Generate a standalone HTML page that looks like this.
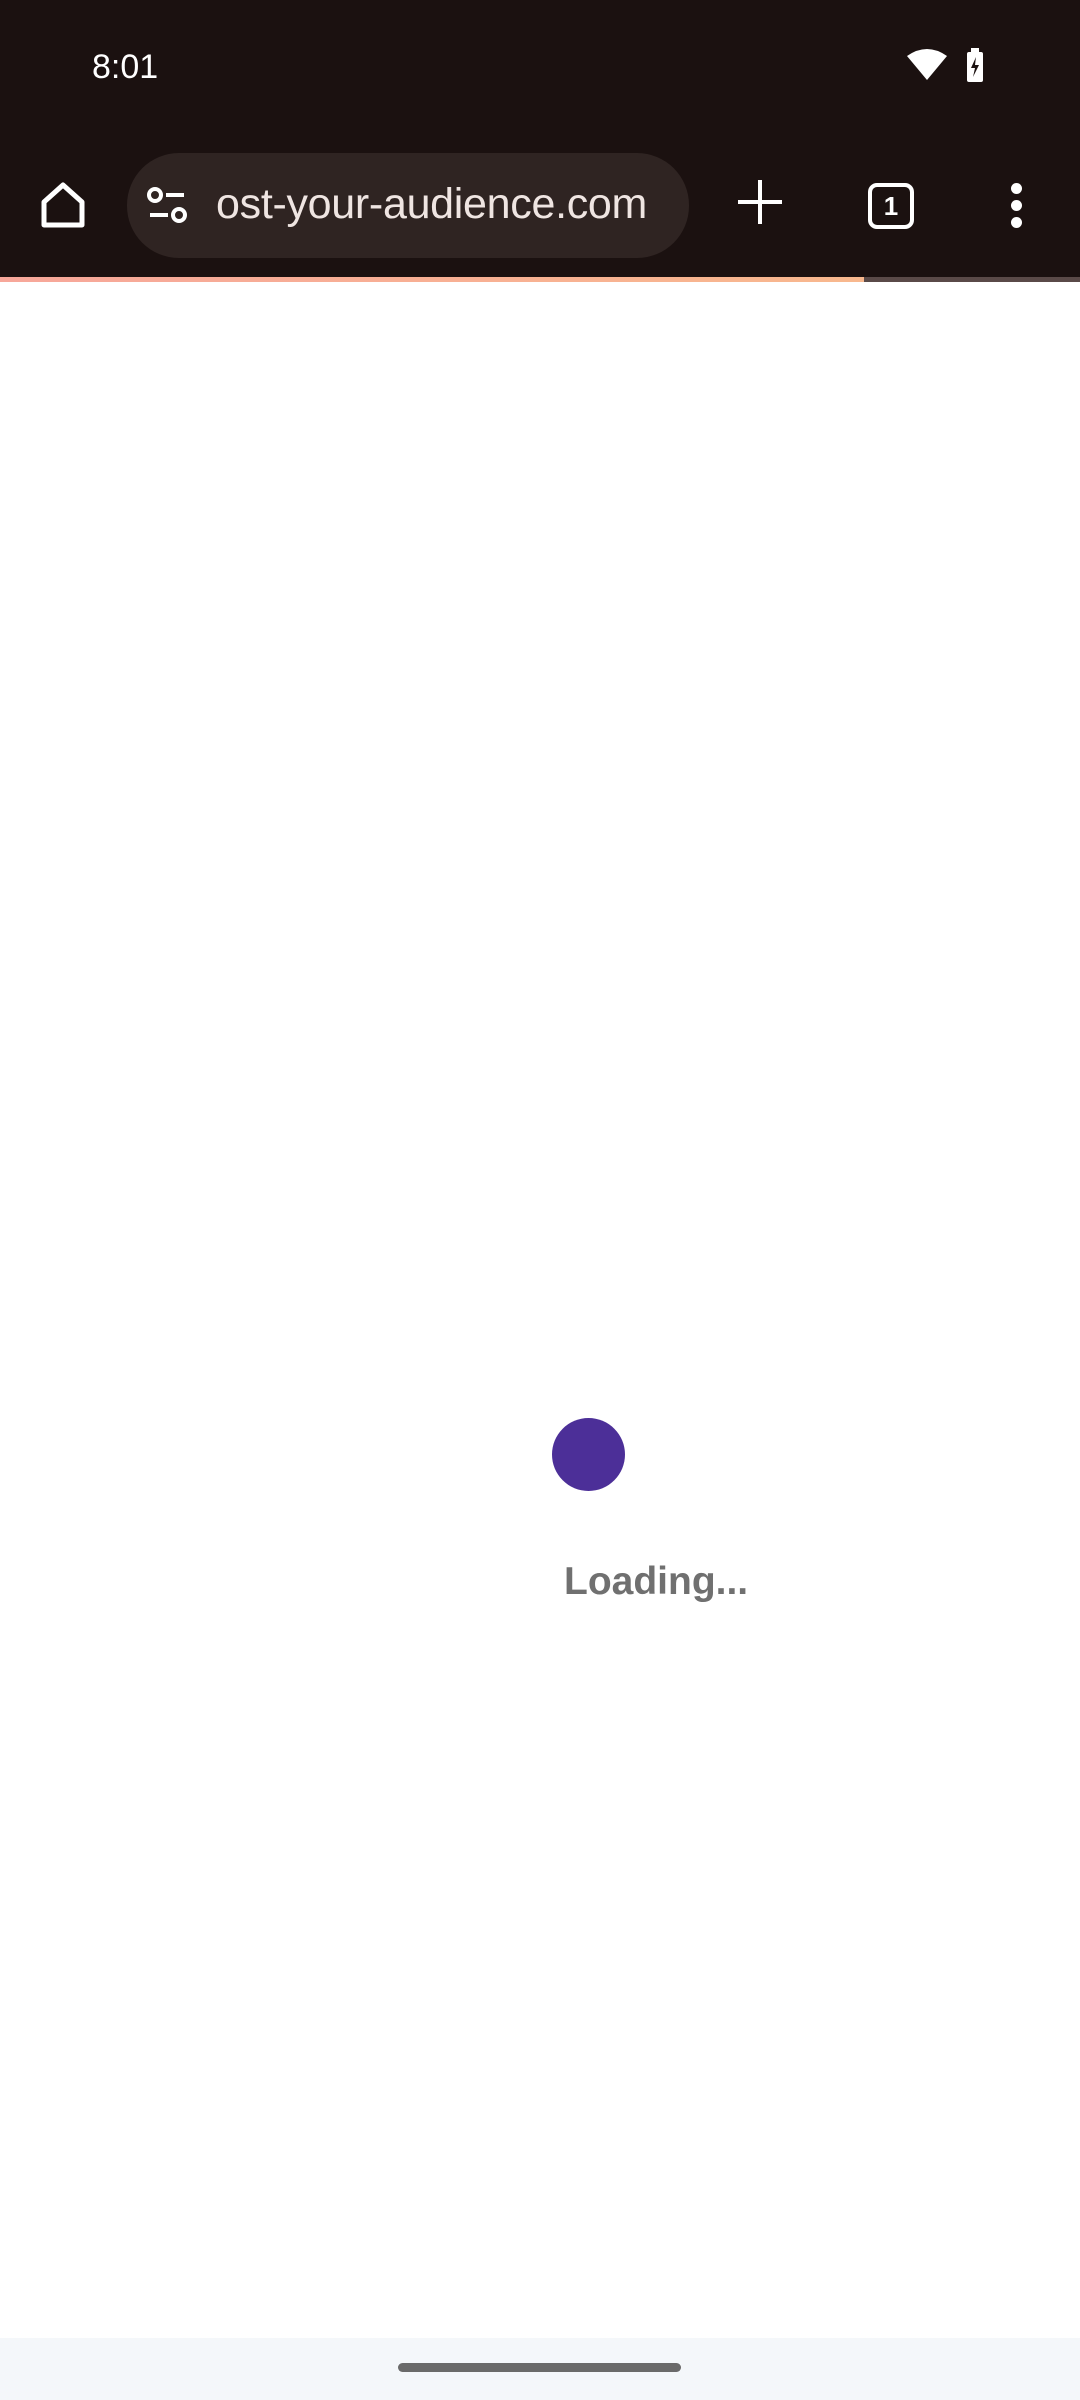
<!DOCTYPE html>
<html><head><meta charset="utf-8"><style>
*{margin:0;padding:0;box-sizing:border-box}
body{width:1080px;height:2400px;background:#fff;position:relative;overflow:hidden;font-family:"Liberation Sans",sans-serif}
.abs{position:absolute}
</style></head><body>
<div class="abs" style="left:0;top:0;width:1080px;height:277px;background:#1b1110"></div>
<div class="abs" style="left:92px;top:48px;color:#fff;font-size:34px">8:01</div>
<svg class="abs" style="left:905px;top:48px" width="90" height="40" viewBox="0 0 90 40">
<path d="M2 8 Q22 -6 42 8 L22 32 Z" fill="#fff"/>
<rect x="62" y="4" width="16" height="30" rx="2" fill="#fff"/><rect x="66" y="0" width="8" height="5" fill="#fff"/>
<path d="M71 9 L66 20 L70 20 L68 29 L74 17 L70 17 Z" fill="#1b1110"/></svg>
<svg class="abs" style="left:38px;top:180px" width="50" height="50" viewBox="0 0 50 50"><path d="M6 22 L25 5 L44 22 V45 H6 Z" fill="none" stroke="#fff" stroke-width="5" stroke-linejoin="round"/></svg>
<div class="abs" style="left:127px;top:153px;width:562px;height:105px;border-radius:52px;background:#2f2422"></div>
<svg class="abs" style="left:146px;top:186px" width="44" height="40" viewBox="0 0 44 40"><circle cx="9" cy="9" r="6" fill="none" stroke="#fff" stroke-width="4"/><rect x="20" y="7" width="18" height="4" fill="#fff"/><rect x="4" y="27" width="18" height="4" fill="#fff"/><circle cx="33" cy="29" r="6" fill="none" stroke="#fff" stroke-width="4"/></svg>
<div class="abs" style="left:216px;top:180px;color:#efe5e2;font-size:43px;letter-spacing:-0.3px;white-space:nowrap">ost-your-audience.com</div>
<div class="abs" style="left:738px;top:180px;width:44px;height:44px"><div class="abs" style="left:20px;top:0;width:4px;height:44px;background:#fff"></div><div class="abs" style="left:0;top:20px;width:44px;height:4px;background:#fff"></div></div>
<div class="abs" style="left:868px;top:183px;width:46px;height:46px;border:4px solid #fff;border-radius:9px;color:#fff;font-size:26px;font-weight:bold;text-align:center;line-height:38px">1</div>
<div class="abs" style="left:1010px;top:183px;width:14px;height:46px">
<div class="abs" style="left:1px;top:0;width:11px;height:11px;border-radius:50%;background:#fff"></div><div class="abs" style="left:1px;top:17px;width:11px;height:11px;border-radius:50%;background:#fff"></div><div class="abs" style="left:1px;top:34px;width:11px;height:11px;border-radius:50%;background:#fff"></div></div>
<div class="abs" style="left:0;top:277px;width:1080px;height:5px;background:#5a4a48"></div>
<div class="abs" style="left:0;top:277px;width:864px;height:5px;background:linear-gradient(90deg,#f7a79a,#f8b88e)"></div>
<div class="abs" style="left:552px;top:1418px;width:73px;height:73px;border-radius:50%;background:#4c2f98"></div>
<div class="abs" style="left:564px;top:1560px;color:#707070;font-size:39px;font-weight:bold;white-space:nowrap">Loading...</div>
<div class="abs" style="left:0;top:2338px;width:1080px;height:62px;background:#f4f7fa"></div>
<div class="abs" style="left:398px;top:2363px;width:283px;height:9px;border-radius:5px;background:#6a6a6a"></div>
</body></html>
